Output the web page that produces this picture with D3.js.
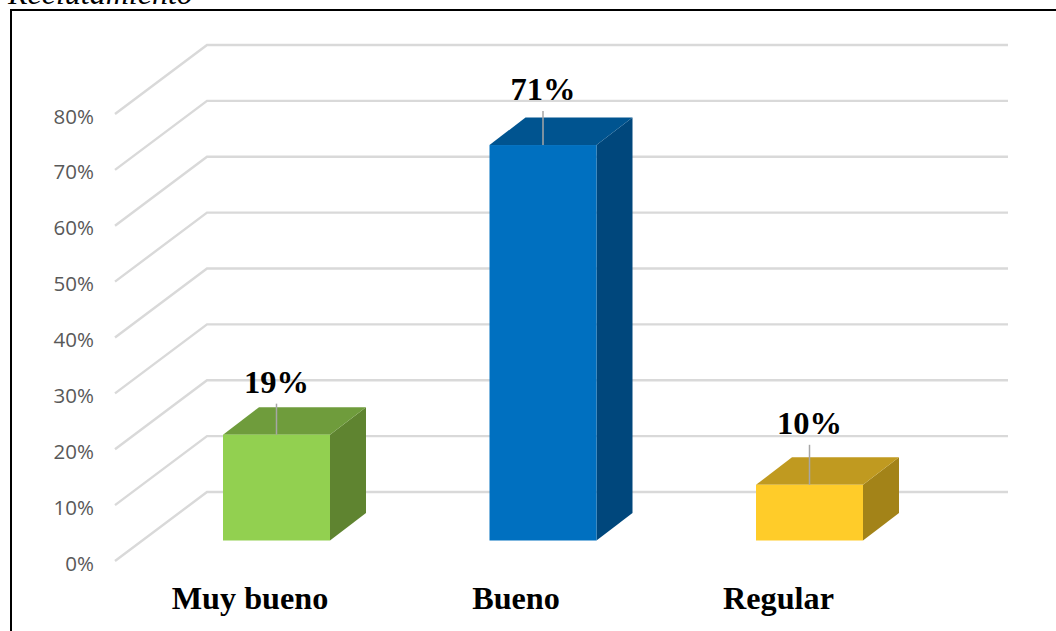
<!DOCTYPE html>
<html>
<head>
<meta charset="utf-8">
<script src="https://cdn.jsdelivr.net/npm/d3@7/dist/d3.min.js"></script>
<style>
html,body{margin:0;padding:0;background:#fff;overflow:hidden}
svg{display:block}
</style>
</head>
<body>
<svg id="chart" width="1056" height="631"></svg>
<script>
const categories = ["Muy bueno", "Bueno", "Regular"];
const values = [19, 71, 10];
const valueLabels = ["19%", "71%", "10%"];
const tickValues = [0, 10, 20, 30, 40, 50, 60, 70, 80];
const frontColors = ["#92d050", "#0070c0", "#ffcc29"];
const topColors = ["#6f9c3c", "#005490", "#c09a20"];
const sideColors = ["#5f8430", "#00477c", "#a38318"];

// Hand placement of the labels around each bar
const categoryNudge = [-26.5, -27, -31];
const labelGap = [42, 45, 51];
const leaderLength = [31, 34, 40];

const svg = d3.select("#chart");

// Back wall of the 3D plot; the floor recedes up and to the right.
const yBack = d3.scaleLinear().domain([0, 80]).range([492, 45]);
const yBar = d3.scaleLinear().domain([0, 80]).range([540.5, 94.9]);
const x = d3.scalePoint().domain(categories).range([276.5, 809.5]);
const wall = { left: 207, right: 1008, depthX: 92, depthY: 69 };
const barW = 107, barDX = 36, barDY = 27.5;

// Page caption cut off by the top edge
svg.append("text").attr("x", 8).attr("y", 4)
  .attr("font-family", "'Liberation Serif'").attr("font-style", "italic")
  .attr("font-size", 32).attr("fill", "#000").text("Reclutamiento");

// Outer frame, running past the right and bottom edges
svg.append("rect").attr("x", 11).attr("y", 10).attr("width", 1060).attr("height", 640)
  .attr("fill", "none").attr("stroke", "#000").attr("stroke-width", 2);

// Gridlines: slanted wall segment plus horizontal back line
const grid = svg.append("g").attr("fill", "none").attr("stroke", "#d9d9d9").attr("stroke-width", 2.4);
grid.selectAll("path").data(tickValues).join("path")
  .attr("d", t => {
    const p = d3.path();
    p.moveTo(wall.left - wall.depthX, yBack(t) + wall.depthY);
    p.lineTo(wall.left, yBack(t));
    p.lineTo(wall.right, yBack(t));
    return p.toString();
  });

// Value axis labels
svg.append("g").selectAll("text").data(tickValues).join("text")
  .attr("x", 94).attr("y", t => yBack(t) + wall.depthY + 9.5)
  .attr("text-anchor", "end").attr("font-family", "'Open Sans'")
  .attr("font-size", 20.5).attr("fill", "#595959").text(t => t + "%");

// Bars as three visible faces
const bars = svg.append("g").selectAll("g").data(categories).join("g");
const left = c => x(c) - barW / 2;
bars.append("path").attr("fill", (c, i) => sideColors[i]).attr("d", (c, i) => {
  const r = left(c) + barW, t = yBar(values[i]), b = yBar(0);
  return `M${r},${t}L${r + barDX},${t - barDY}L${r + barDX},${b - barDY}L${r},${b}Z`;
});
bars.append("path").attr("fill", (c, i) => topColors[i]).attr("d", (c, i) => {
  const l = left(c), t = yBar(values[i]);
  return `M${l},${t}L${l + barDX},${t - barDY}L${l + barW + barDX},${t - barDY}L${l + barW},${t}Z`;
});
bars.append("rect").attr("fill", (c, i) => frontColors[i])
  .attr("x", left).attr("width", barW)
  .attr("y", (c, i) => yBar(values[i]))
  .attr("height", (c, i) => yBar(0) - yBar(values[i]));

// Leader lines from the bar tops to their value labels
bars.append("line").attr("stroke", "#a6a6a6").attr("stroke-width", 1.5)
  .attr("x1", c => x(c)).attr("x2", c => x(c))
  .attr("y1", (c, i) => yBar(values[i]))
  .attr("y2", (c, i) => yBar(values[i]) - leaderLength[i]);

bars.append("text").attr("x", c => x(c)).attr("y", (c, i) => yBar(values[i]) - labelGap[i])
  .attr("text-anchor", "middle").attr("font-family", "'Liberation Serif'")
  .attr("font-weight", "bold").attr("font-size", 32.5).attr("fill", "#000")
  .text((c, i) => valueLabels[i]);

// Category labels sit left of their bars
bars.append("text").attr("x", (c, i) => x(c) + categoryNudge[i]).attr("y", 609)
  .attr("text-anchor", "middle").attr("font-family", "'Liberation Serif'")
  .attr("font-weight", "bold").attr("font-size", 32.2).attr("fill", "#000")
  .text(c => c);
</script>
</body>
</html>
